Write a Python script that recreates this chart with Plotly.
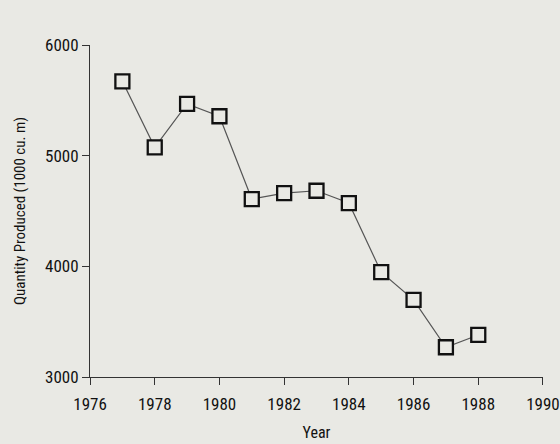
import plotly.graph_objects as go

years = [1977, 1978, 1979, 1980, 1981, 1982, 1983, 1984, 1985, 1986, 1987, 1988]
quantity = [5672, 5075, 5468, 5356, 4608, 4662, 4683, 4572, 3947, 3697, 3269, 3380]
x_ticks = [1976, 1978, 1980, 1982, 1984, 1986, 1988, 1990]
y_ticks = [3000, 4000, 5000, 6000]

bg = "#e9e9e4"
font_family = "Roboto Condensed, DejaVu Sans Condensed, sans-serif"

fig = go.Figure()
fig.add_trace(go.Scatter(
    x=years, y=quantity, mode="lines+markers",
    line=dict(color="#555555", width=1.2),
    marker=dict(symbol="square", size=14, color=bg,
                line=dict(color="#111111", width=2.3)),
    cliponaxis=False, showlegend=False,
))

fig.update_layout(
    width=560, height=444,
    margin=dict(l=90, r=17, t=45, b=67),
    paper_bgcolor=bg, plot_bgcolor=bg,
    font=dict(family=font_family, color="#111111", size=17),
    xaxis=dict(range=[1975.999, 1990.001], tickvals=x_ticks, ticktext=[str(v) for v in x_ticks],
               automargin=False,
               showgrid=False, zeroline=False, showline=True, linecolor="#333333", linewidth=1,
               ticks="outside", ticklen=7, tickcolor="#333333", ticklabelstandoff=5,
               title=dict(text="Year", font=dict(size=16), standoff=13)),
    yaxis=dict(range=[3000, 6000], tickvals=y_ticks, ticktext=[str(v) for v in y_ticks],
               automargin=False,
               showgrid=False, zeroline=False, showline=True, linecolor="#333333", linewidth=1,
               ticks="outside", ticklen=7, tickcolor="#333333",
               title=dict(text="Quantity Produced (1000 cu. m)", font=dict(size=15), standoff=15)),
)

fig.write_html("out.html", config={"displayModeBar": False},
               post_script="document.body.style.margin='0';document.body.style.background='" + bg + "';")
